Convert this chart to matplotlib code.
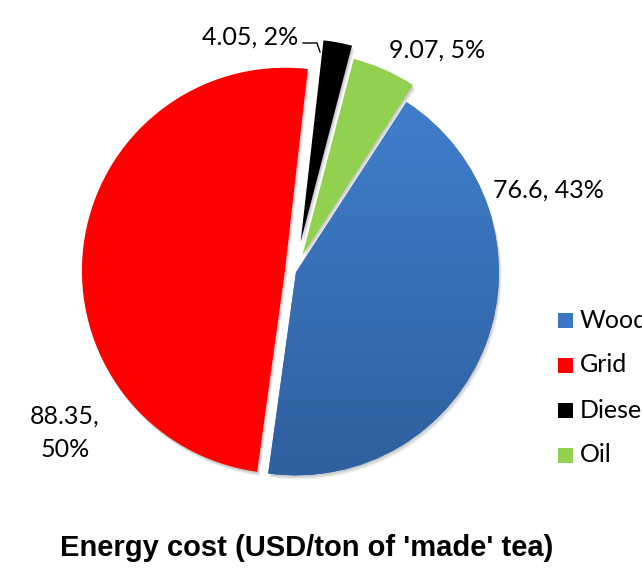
import numpy as np
import matplotlib
matplotlib.use('Agg')
import matplotlib.pyplot as plt
from matplotlib.patches import Wedge, Rectangle
from matplotlib.colors import LinearSegmentedColormap

labels = ['Wood', 'Grid', 'Diesel', 'Oil']
values = [76.6, 88.35, 4.05, 9.07]
pct_labels = ['43%', '50%', '2%', '5%']
colors = ['#3A76C2', '#FF0000', '#000000', '#92D050']
wood_grad = ['#4282D2', '#2E5E9C']
explode = [0.005, 0.05, 0.15, 0.09]
title = "Energy cost (USD/ton of 'made' tea)"

W, H = 642, 572
R, cx, cy = 203.0, 295.0, 272.0

def d(px, py):
    return ((px - cx) / R, (cy - py) / R)

fig = plt.figure(figsize=(6.42, 5.72), dpi=100)
ax = fig.add_axes([0, 0, 1, 1])
wedges, _ = ax.pie(values, colors=colors, startangle=57, counterclock=False,
                   explode=explode, radius=1, wedgeprops=dict(linewidth=0))

# soft shadows
for w in wedges:
    c = w.center
    for k, (ox, oy) in enumerate([(0.004, -0.008), (0.008, -0.014), (0.012, -0.02)]):
        s = Wedge((c[0] + ox, c[1] + oy), w.r, w.theta1, w.theta2,
                  facecolor='black', alpha=0.07, linewidth=0, zorder=0.5)
        ax.add_patch(s)

# gradient on wood
wood = wedges[0]
cmap = LinearSegmentedColormap.from_list('wood', wood_grad)
grad = np.linspace(0, 1, 256).reshape(-1, 1)
im = ax.imshow(grad, extent=(-1.2, 1.2, -1.1, 1.1), cmap=cmap, origin='upper',
               aspect='auto', zorder=1.1, interpolation='bilinear')
im.set_clip_path(wood)

ax.set_xlim(-cx / R, (W - cx) / R)
ax.set_ylim(-(H - cy) / R, cy / R)
ax.set_aspect('equal')
ax.axis('off')

fnt = 'Lato'
fs = 18
txt = [f"{v}, {p}" for v, p in zip(values, pct_labels)]
ax.text(*d(493, 190), txt[0], ha='left', va='center', fontsize=fs, family=fnt)
ax.text(*d(65, 433), f"{values[1]},\n{pct_labels[1]}", ha='center', va='center',
        fontsize=fs, family=fnt, linespacing=1.55)
ax.text(*d(298, 37), txt[2], ha='right', va='center', fontsize=fs, family=fnt)
ax.text(*d(389, 50), txt[3], ha='left', va='center', fontsize=fs, family=fnt)
lx, ly = zip(d(303, 43), d(317, 43), d(320, 52))
ax.plot(lx, ly, color='black', lw=1)

# legend
leg_y = [320, 365, 410, 455]
for lab, col, y in zip(labels, colors, leg_y):
    fig.patches.append(Rectangle((558 / W, 1 - (y + 7.5) / H), 15 / W, 15 / H,
                                 transform=fig.transFigure, facecolor=col, linewidth=0))
    fig.text(580 / W, 1 - y / H, lab, ha='left', va='center', fontsize=fs, family=fnt)

fig.text(307 / W, 1 - 548 / H, title, ha='center', va='center', fontsize=21,
         fontweight='bold', family='Liberation Sans')

fig.savefig('out.png', dpi=100)
